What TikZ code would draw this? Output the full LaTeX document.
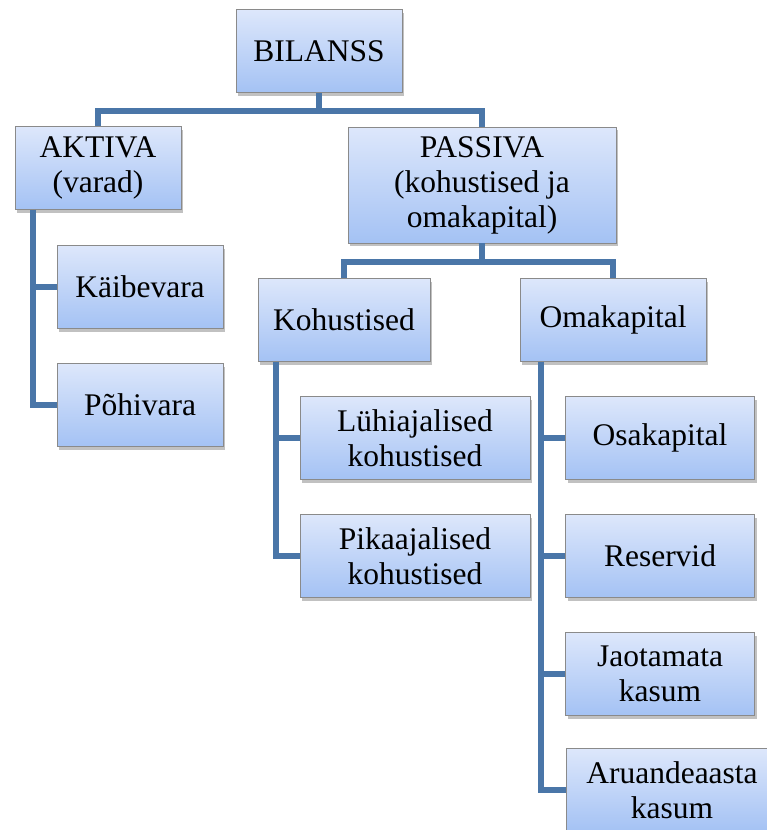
\documentclass[tikz,border=0pt]{standalone}
\usepackage{fontspec}
\setmainfont{Liberation Serif}
\usetikzlibrary{shadows}
\definecolor{linec}{HTML}{4A76A8}
\definecolor{boxtop}{HTML}{DDE7FB}
\definecolor{boxbot}{HTML}{A4C2F4}
\definecolor{boxdraw}{HTML}{8A8A8A}
\begin{document}
\begin{tikzpicture}[x=1pt,y=-1pt,
  box/.style={draw=boxdraw, line width=0.8pt, top color=boxtop, bottom color=boxbot,
    minimum height=83pt, align=center, inner sep=2pt,
    font=\fontsize{31.5}{35}\selectfont,
    drop shadow={shadow xshift=2pt, shadow yshift=-3pt, opacity=0.35, fill=black!70}},
  conn/.style={draw=linec, line width=5.5pt}]
\useasboundingbox (0,0) rectangle (767,830);
\coordinate (j1) at (319,111);
\coordinate (j2) at (482,262);
\node[box, minimum width=166pt] (bil) at (319,51) {BILANSS};
\node[box, minimum width=166pt] (akt) at (98,168) {AKTIVA\\(varad)};
\node[box, minimum width=268pt, minimum height=116pt] (pas) at (482,185) {PASSIVA\\(kohustised ja\\omakapital)};
\node[box, minimum width=166pt] (kai) at (140,287) {Käibevara};
\node[box, minimum width=166pt] (poh) at (140,405) {Põhivara};
\node[box, minimum width=172pt] (koh) at (344,320) {Kohustised};
\node[box, minimum width=186pt] (oma) at (613,320) {Omakapital};
\node[box, minimum width=230pt] (luh) at (415,438) {Lühiajalised\\kohustised};
\node[box, minimum width=230pt] (pik) at (415,556) {Pikaajalised\\kohustised};
\node[box, minimum width=189pt] (osa) at (660,438) {Osakapital};
\node[box, minimum width=189pt] (res) at (660,556) {Reservid};
\node[box, minimum width=189pt] (jao) at (660,674) {Jaotamata\\kasum};
\node[box, minimum width=212pt] (aru) at (672,790) {Aruandeaasta\\kasum};
\draw[conn] (bil.south) -- (j1);
\draw[conn] (akt.north) |- (j1) -| (pas.north);
\draw[conn] (pas.south) -- (j2);
\draw[conn] (koh.north) |- (j2) -| (oma.north);
\draw[conn] (akt.south -| 33,0) |- (kai.west);
\draw[conn] (akt.south -| 33,0) |- (poh.west);
\draw[conn] (koh.south -| 276,0) |- (luh.west);
\draw[conn] (koh.south -| 276,0) |- (pik.west);
\draw[conn] (oma.south -| 541,0) |- (osa.west);
\draw[conn] (oma.south -| 541,0) |- (res.west);
\draw[conn] (oma.south -| 541,0) |- (jao.west);
\draw[conn] (oma.south -| 541,0) |- (aru.west);
\end{tikzpicture}
\end{document}
